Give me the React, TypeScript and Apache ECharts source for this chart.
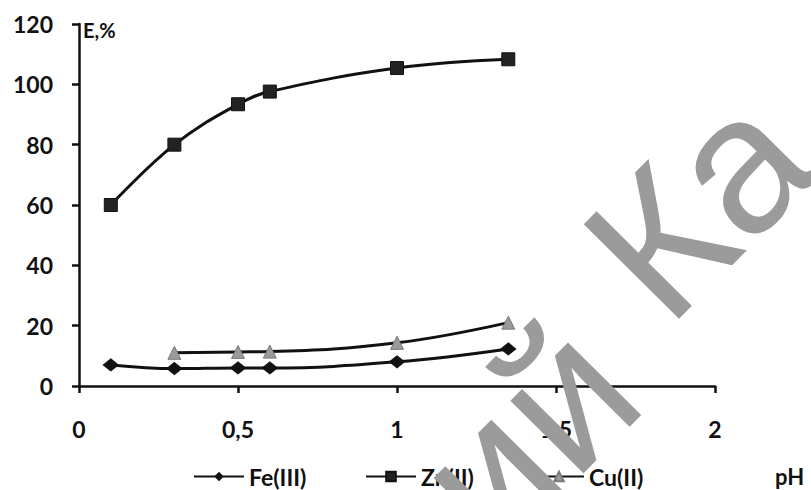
import React, { useEffect, useRef } from "react";
import * as echarts from "echarts";

const phFeZn = [0.1, 0.3, 0.5, 0.6, 1.0, 1.35];
const feValues = [7, 5.8, 6, 6, 8, 12.3];
const znValues = [60, 80, 93.4, 97.6, 105.4, 108.3];
const phCu = [0.3, 0.5, 0.6, 1.0, 1.35];
const cuValues = [11, 11.3, 11.4, 14.3, 21];
const seriesNames = ["Fe(III)", "Zn(II)", "Cu(II)"];
const yAxisTitle = "E,%";
const xAxisTitle = "pH";
const watermarkLeft = "ий";
const watermarkRight = "Ка";

const FONT = "Lato";

export default function App() {
  const ref = useRef<HTMLDivElement>(null);
  useEffect(() => {
    document.body.style.margin = "0";
    const chart = echarts.init(ref.current!, null, { renderer: "svg" });
    const pair = (xs: number[], ys: number[]) => xs.map((x, i) => [x, ys[i]]);
    const rot = 0.79;
    const fs = 195;
    const rx = Math.cos(rot), ry = -Math.sin(rot);
    const ux = -Math.sin(rot), uy = -Math.cos(rot);
    const bx = 684.5, by = 340.6;
    const mid = 0.3465 * fs;
    const ax = bx + mid * ux, ay = by + mid * uy;
    const sp = 0.278 * fs;
    const ax2 = ax - sp * rx, ay2 = ay - sp * ry;
    const legendBase = {
      itemWidth: 50,
      itemHeight: 12,
      itemGap: 0,
      padding: 0,
      top: 465,
      textStyle: { fontFamily: FONT, fontWeight: "bold", fontSize: 23, lineHeight: 22, color: "#111" },
    };
    const wmStyle = {
      fontFamily: "Liberation Sans",
      fontSize: fs,
      fill: "#9b9b9b",
      textVerticalAlign: "middle",
    };
    chart.setOption({
      animation: false,
      backgroundColor: "#fff",
      grid: { left: 79, right: 96, top: 24, bottom: 104, containLabel: false },
      xAxis: {
        type: "value",
        min: 0,
        max: 2,
        interval: 0.5,
        axisLine: { show: true, lineStyle: { color: "#111", width: 2.5 } },
        axisTick: { show: true, length: 7, lineStyle: { color: "#111", width: 2.5 } },
        splitLine: { show: false },
        axisLabel: {
          margin: 31,
          color: "#111",
          fontFamily: FONT,
          fontWeight: "bold",
          fontSize: 23,
          formatter: (v: number) => String(v).replace(".", ","),
        },
      },
      yAxis: {
        type: "value",
        min: 0,
        max: 120,
        interval: 20,
        axisLine: { show: true, lineStyle: { color: "#111", width: 2.5 } },
        axisTick: { show: true, length: 7, lineStyle: { color: "#111", width: 2.5 } },
        splitLine: { show: false },
        axisLabel: { margin: 26, color: "#111", fontFamily: FONT, fontWeight: "bold", fontSize: 23 },
      },
      legend: [
        { ...legendBase, left: 193, data: [seriesNames[0]] },
        { ...legendBase, left: 365, data: [seriesNames[1]] },
        { ...legendBase, left: 533, data: [seriesNames[2]] },
      ],
      series: [
        {
          name: seriesNames[0],
          type: "line",
          smooth: 0.4,
          data: pair(phFeZn, feValues),
          symbol: "diamond",
          symbolSize: [15, 12],
          lineStyle: { color: "#111", width: 3 },
          itemStyle: { color: "#111", borderColor: "#111" },
        },
        {
          name: seriesNames[1],
          type: "line",
          smooth: 0.4,
          data: pair(phFeZn, znValues),
          symbol: "rect",
          symbolSize: 13,
          lineStyle: { color: "#111", width: 3 },
          itemStyle: { color: "#222", borderColor: "#111", borderWidth: 1 },
        },
        {
          name: seriesNames[2],
          type: "line",
          smooth: 0.4,
          data: pair(phCu, cuValues),
          symbol: "triangle",
          symbolSize: 13,
          lineStyle: { color: "#111", width: 3 },
          itemStyle: { color: "#9a9a9a", borderColor: "#7a7a7a", borderWidth: 1 },
        },
      ],
      graphic: [
        {
          type: "text",
          x: 83,
          y: 30,
          style: { text: yAxisTitle, fontFamily: FONT, fontWeight: "bold", fontSize: 20, fill: "#111", textVerticalAlign: "middle" },
        },
        {
          type: "text",
          x: 775,
          y: 476,
          style: { text: xAxisTitle, fontFamily: FONT, fontWeight: "bold", fontSize: 22, fill: "#111", textVerticalAlign: "middle" },
        },
        {
          type: "text",
          z: 100,
          x: ax - 17,
          y: ay - 11,
          rotation: rot,
          style: { ...wmStyle, text: watermarkRight, textAlign: "left" },
        },
        {
          type: "text",
          z: 100,
          x: ax2 + 4,
          y: ay2 + 26,
          rotation: rot,
          style: { ...wmStyle, text: watermarkLeft, textAlign: "right" },
        },
      ],
    });
    return () => chart.dispose();
  }, []);
  return <div ref={ref} style={{ width: 811, height: 490 }} />;
}
